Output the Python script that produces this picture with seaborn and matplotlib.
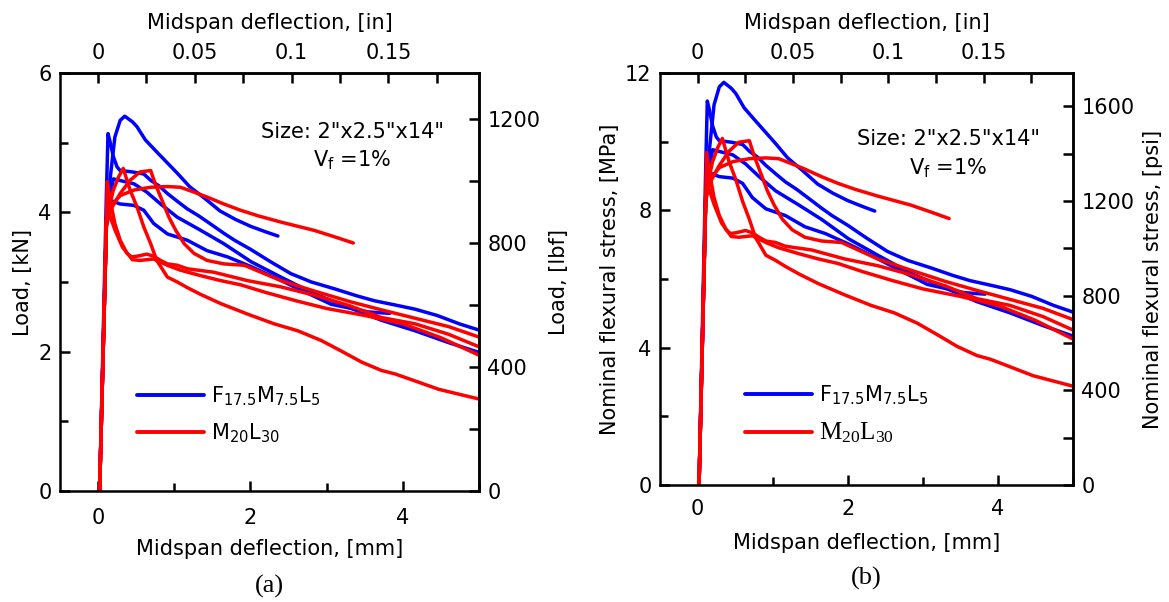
import matplotlib
matplotlib.use('Agg')
import matplotlib.pyplot as plt
import matplotlib.ticker as mticker
import seaborn as sns
import pandas as pd

BLUE_MIX = r'F$_{17.5}$M$_{7.5}$L$_{5}$'
RED_MIX = r'M$_{20}$L$_{30}$'

# midspan deflection [mm] / load [kN]
b1_defl = [0.02, 0.11, 0.16, 0.22, 0.29, 0.35, 0.45, 0.51, 0.62, 0.75, 0.90, 1.05, 1.20, 1.40, 1.60, 1.80, 2.00, 2.20, 2.36]
b1_load = [0.00, 3.90, 4.50, 5.08, 5.32, 5.38, 5.30, 5.23, 5.04, 4.89, 4.72, 4.55, 4.37, 4.20, 4.02, 3.90, 3.80, 3.72, 3.66]

b2_defl = [0.02, 0.11, 0.13, 0.16, 0.20, 0.25, 0.29, 0.45, 0.60, 0.69, 0.80, 0.91, 1.05, 1.17, 1.32, 1.48, 1.65, 1.79,
           2.00, 2.25, 2.53, 2.80, 3.11, 3.40, 3.63, 3.90, 4.16, 4.45, 4.74, 5.00]
b2_load = [0.00, 4.30, 5.13, 5.00, 4.80, 4.65, 4.60, 4.58, 4.55, 4.46, 4.38, 4.27, 4.15, 4.05, 3.95, 3.83, 3.70, 3.60,
           3.47, 3.30, 3.12, 3.00, 2.90, 2.80, 2.73, 2.67, 2.61, 2.52, 2.40, 2.31]

b3_defl = [0.02, 0.11, 0.20, 0.47, 0.64, 0.82, 1.04, 1.35, 1.65, 2.01, 2.40, 2.84, 3.28, 3.72, 4.16, 4.60, 5.00]
b3_load = [0.00, 3.90, 4.48, 4.41, 4.29, 4.12, 3.93, 3.74, 3.55, 3.29, 3.07, 2.83, 2.64, 2.45, 2.30, 2.13, 1.99]

b4_defl = [0.02, 0.11, 0.16, 0.29, 0.47, 0.60, 0.73, 0.91, 1.17, 1.43, 1.70, 2.01, 2.31, 2.67, 3.06, 3.55, 3.83]
b4_load = [0.00, 3.85, 4.17, 4.12, 4.10, 4.03, 3.84, 3.69, 3.60, 3.45, 3.36, 3.22, 3.07, 2.88, 2.68, 2.57, 2.55]

r1_defl = [0.02, 0.11, 0.16, 0.29, 0.47, 0.69, 0.91, 1.08, 1.26, 1.43, 1.65, 1.87, 2.10, 2.40, 2.84, 3.10, 3.35]
r1_load = [0.00, 3.90, 4.08, 4.24, 4.32, 4.36, 4.37, 4.36, 4.29, 4.22, 4.12, 4.03, 3.95, 3.86, 3.74, 3.65, 3.56]

r2_defl = [0.02, 0.11, 0.12, 0.16, 0.22, 0.29, 0.38, 0.44, 0.51, 0.64, 0.73, 0.82, 0.91, 1.04, 1.17, 1.52, 1.96,
           2.40, 2.84, 3.30, 3.72, 4.16, 4.60, 5.00]
r2_load = [0.00, 3.90, 4.44, 4.17, 3.84, 3.60, 3.41, 3.36, 3.37, 3.40, 3.37, 3.31, 3.26, 3.24, 3.19, 3.14, 3.02,
           2.93, 2.81, 2.66, 2.49, 2.40, 2.25, 2.07]

r3_defl = [0.02, 0.11, 0.20, 0.27, 0.33, 0.42, 0.51, 0.60, 0.69, 0.77, 0.91, 1.04, 1.17, 1.35, 1.61, 1.96, 2.31,
           2.62, 2.93, 3.19, 3.46, 3.72, 3.90, 4.16, 4.47, 5.00]
r3_load = [0.00, 3.90, 4.32, 4.51, 4.63, 4.32, 4.08, 3.79, 3.55, 3.31, 3.07, 3.00, 2.92, 2.82, 2.69, 2.54, 2.40,
           2.30, 2.16, 2.01, 1.85, 1.73, 1.68, 1.58, 1.46, 1.32]

r4_defl = [0.02, 0.11, 0.16, 0.29, 0.42, 0.55, 0.69, 0.75, 0.84, 0.93, 1.02, 1.13, 1.26, 1.43, 1.65, 1.92, 2.40,
           2.84, 3.30, 3.72, 4.16, 4.60, 5.00]
r4_load = [0.00, 3.80, 4.03, 4.27, 4.46, 4.58, 4.60, 4.41, 4.17, 3.93, 3.74, 3.55, 3.41, 3.31, 3.26, 3.24, 3.02,
           2.87, 2.72, 2.60, 2.48, 2.36, 2.21]

r5_defl = [0.02, 0.11, 0.14, 0.22, 0.32, 0.45, 0.55, 0.73, 0.91, 1.08, 1.35, 1.61, 1.87, 2.20, 2.60, 3.00, 3.50,
           4.00, 4.50, 5.00]
r5_load = [0.00, 3.90, 4.00, 3.75, 3.50, 3.32, 3.31, 3.33, 3.24, 3.17, 3.09, 3.02, 2.96, 2.85, 2.73, 2.62, 2.52,
           2.40, 2.20, 1.95]

# nominal flexural stress per kN of load for the 2"x2.5" section
MPA_PER_KN = 2.18

curves = [
    (BLUE_MIX, 'B1', b1_defl, b1_load), (BLUE_MIX, 'B2', b2_defl, b2_load),
    (BLUE_MIX, 'B3', b3_defl, b3_load), (BLUE_MIX, 'B4', b4_defl, b4_load),
    (RED_MIX, 'R1', r1_defl, r1_load), (RED_MIX, 'R2', r2_defl, r2_load),
    (RED_MIX, 'R3', r3_defl, r3_load), (RED_MIX, 'R4', r4_defl, r4_load),
    (RED_MIX, 'R5', r5_defl, r5_load),
]
rows = []
for mix, spec, xs, ys in curves:
    for x, y in zip(xs, ys):
        rows.append({'mix': mix, 'specimen': spec, 'defl': x, 'load': y})
df = pd.DataFrame(rows)
df['stress'] = df['load'] * MPA_PER_KN

sns.set_style('ticks')
plt.rcParams['font.family'] = ['DejaVu Sans']
plt.rcParams['mathtext.default'] = 'regular'
plt.rcParams['axes.linewidth'] = 1.8
for key in ['text.color', 'axes.labelcolor', 'xtick.color', 'ytick.color', 'axes.edgecolor']:
    plt.rcParams[key] = 'black'
FS = 15

fig = plt.figure(figsize=(11.69, 6.02), dpi=100)
ax_a = fig.add_axes([60 / 1169, 1 - 491 / 602, 419 / 1169, 418 / 602])
ax_b = fig.add_axes([660 / 1169, 1 - 485 / 602, 413 / 1169, 412 / 602])

palette = {BLUE_MIX: '#0000ff', RED_MIX: '#ff0000'}


def style_ticks(a, length=7, pad=7):
    a.tick_params(which='both', direction='in', width=1.8, labelsize=FS, pad=pad)
    a.tick_params(which='major', length=length)
    a.tick_params(which='minor', length=length - 1)


def panel(ax, ycol, ymax, ymajor, rfunc, rinv, rmajor, ylab, rlab, tag, box_y, leg_xy, bpad, xlpad):
    sns.lineplot(data=df, x='defl', y=ycol, hue='mix', hue_order=[BLUE_MIX, RED_MIX],
                 units='specimen', estimator=None, sort=False, palette=palette,
                 linewidth=2.5, ax=ax)
    ax.set_xlim(-0.5, 5)
    ax.set_ylim(0, ymax)
    ax.xaxis.set_major_locator(mticker.MultipleLocator(2))
    ax.xaxis.set_minor_locator(mticker.MultipleLocator(1))
    ax.yaxis.set_major_locator(mticker.MultipleLocator(ymajor))
    ax.yaxis.set_minor_locator(mticker.MultipleLocator(ymajor / 2))
    ax.set_xlabel('Midspan deflection, [mm]', fontsize=FS, labelpad=xlpad)
    ax.set_ylabel(ylab, fontsize=FS, labelpad=4)
    style_ticks(ax, pad=bpad)
    ax.tick_params(axis='y', pad=6)

    top = ax.secondary_xaxis('top', functions=(lambda v: v / 25.4, lambda v: v * 25.4))
    top.xaxis.set_major_locator(mticker.FixedLocator([0, 0.05, 0.1, 0.15]))
    top.xaxis.set_minor_locator(mticker.FixedLocator([0.025, 0.075, 0.125, 0.175]))
    top.xaxis.set_major_formatter(mticker.FormatStrFormatter('%g'))
    top.set_xlabel('Midspan deflection, [in]', fontsize=FS, labelpad=10)
    style_ticks(top, pad=7)
    top.tick_params(which='minor', length=7)

    right = ax.secondary_yaxis('right', functions=(rfunc, rinv))
    right.yaxis.set_major_locator(mticker.FixedLocator(rmajor))
    right.yaxis.set_minor_locator(mticker.MultipleLocator(200))
    right.set_ylabel(rlab, fontsize=FS, labelpad=6)
    style_ticks(right, length=7, pad=6)
    right.tick_params(which='minor', length=7)

    ax.text(0.698, box_y[0], 'Size: 2"x2.5"x14"', transform=ax.transAxes,
            ha='center', va='center', fontsize=FS)
    ax.text(0.698, box_y[1], r'V$_f$ =1%', transform=ax.transAxes,
            ha='center', va='center', fontsize=FS)
    ax.text(0.5, -0.2, tag, transform=ax.transAxes, ha='center', va='top',
            fontsize=FS + 4, family='Liberation Serif')

    sns.move_legend(ax, 'upper left', bbox_to_anchor=leg_xy, frameon=False, title=None,
                    fontsize=FS, handlelength=3.2, labelspacing=0.65, handletextpad=0.35,
                    borderaxespad=0, borderpad=0)
    for line in ax.get_legend().get_lines():
        line.set_linewidth(2.8)


panel(ax_a, 'load', 6, 2, lambda v: v * 224.81, lambda v: v / 224.81, [0, 400, 800, 1200],
      'Load, [kN]', 'Load, [lbf]', '(a)', (0.859, 0.791), (0.184, 0.256), 12, 8)
panel(ax_b, 'stress', 12, 4, lambda v: v * 145.04, lambda v: v / 145.04, [0, 400, 800, 1200, 1600],
      'Nominal flexural stress, [MPa]', 'Nominal flexural stress, [psi]', '(b)', (0.841, 0.769),
      (0.206, 0.246), 10, 10)

red_text = ax_b.get_legend().get_texts()[1]
red_text.set_fontfamily('Liberation Serif')
red_text.set_fontsize(FS + 3)

fig.savefig('out.png', dpi=100)
